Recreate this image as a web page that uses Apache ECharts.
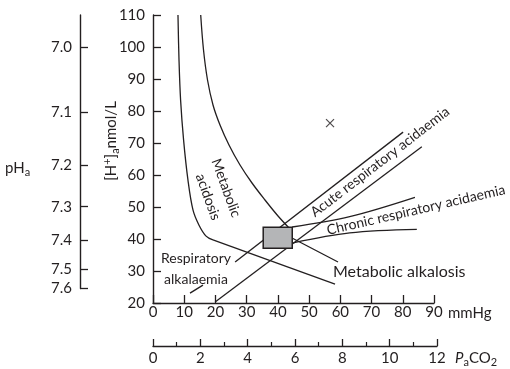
<!DOCTYPE html>
<html><head><meta charset="utf-8">
<script src="https://cdn.jsdelivr.net/npm/echarts@6/dist/echarts.min.js"></script>
<style>html,body{margin:0;padding:0;background:#fff}#c{width:510px;height:369px}</style>
</head><body><div id="c"></div>
<script>
const INK = '#231f20';
const FONT = 'Lato';

// ---- axes ----
const mmHgRange = [0, 90], mmHgStep = 10;
const hRange = [20, 110], hStep = 10;
const kPaRange = [0, 12], kPaStep = 2;
const phLabels = ['7.0', '7.1', '7.2', '7.3', '7.4', '7.5', '7.6'];
const phAtH = [100, 79.5, 63.1, 50.1, 39.5, 30.6, 24.5];

// ---- curves (x = PaCO2 mmHg, y = [H+] nmol/L) ----
const metAcidLeftX = [8.0, 8.33, 8.84, 9.8, 11.2, 12.8, 14.7, 17.0, 19.2];
const metAcidLeftY = [110, 95.9, 83.4, 70.9, 58.4, 49.1, 44.4, 40.9, 39.7];
const respAlkTailX = [19.2, 58.3];
const respAlkTailY = [39.7, 25.9];

const metCurveX = [15.28, 16.18, 17.46, 19.22, 21.46, 24.34, 27.87, 31.71, 35.87, 40.04, 43.88];
const metCurveY = [110, 99.06, 89.69, 81.88, 75.63, 69.38, 63.13, 57.5, 52.19, 47.19, 43.13];
const metAlkTailX = [43.88, 44.52, 59.26];
const metAlkTailY = [43.13, 40.3, 32.8];

const acuteUpperX = [26.3, 80.1];
const acuteUpperY = [32.8, 73.4];
const acuteUpperStubX = [11.85, 16.0];
const acuteUpperStubY = [23.1, 25.6];
const acuteLowerX = [19.9, 86.1];
const acuteLowerY = [20.3, 68.8];

const chronicUpperX = [44.6, 63.0, 83.9];
const chronicUpperY = [43.75, 46.97, 53.0];
const chronicLowerX = [44.9, 63.0, 84.5];
const chronicLowerY = [38.8, 41.9, 43.0];

const normalBoxX = [35.3, 44.6];
const normalBoxY = [37.1, 43.7];

const crossPoint = [56.7, 76.2];

function pairs(xs, ys) { return xs.map((x, i) => [x, ys[i]]); }

const lineStyle = { color: INK, width: 1.3 };
function lineSeries(xs, ys, smooth) {
  return { type: 'line', xAxisIndex: 0, yAxisIndex: 0, data: pairs(xs, ys),
    showSymbol: false, symbol: 'none', smooth: smooth ? 0.35 : false,
    lineStyle: lineStyle, silent: true, z: 3 };
}

const chart = echarts.init(document.getElementById('c'), null, { renderer: 'canvas' });
const axisLine = { show: true, lineStyle: { color: INK, width: 1.4 } };
const txt = { color: INK, fontFamily: FONT, fontSize: 15 };

chart.setOption({
  animation: false,
  grid: [
    { left: 153, top: 15, width: 281, height: 288 },
    { left: 80, top: 15, width: 10, height: (hRange[1] - phAtH[phAtH.length - 1]) * 3.2 },
    { left: 153, top: 345, width: 284, height: 1 }
  ],
  xAxis: [
    { gridIndex: 0, type: 'value', min: mmHgRange[0], max: mmHgRange[1], interval: mmHgStep,
      axisLine: axisLine, axisTick: { inside: true, length: 8, lineStyle: { color: INK, width: 1.3 } },
      axisLabel: Object.assign({ margin: 2 }, txt), splitLine: { show: false } },
    { gridIndex: 1, type: 'value', show: false },
    { gridIndex: 2, type: 'value', min: kPaRange[0], max: kPaRange[1], interval: kPaStep,
      axisLine: axisLine, axisTick: { inside: true, length: 7, lineStyle: { color: INK, width: 1.3 } },
      minorTick: { show: true, splitNumber: 2, length: 4, lineStyle: { color: INK, width: 1.2 } },
      axisLabel: Object.assign({ margin: 5 }, txt), splitLine: { show: false } }
  ],
  yAxis: [
    { gridIndex: 0, type: 'value', min: hRange[0], max: hRange[1], interval: hStep,
      axisLine: axisLine, axisTick: { inside: true, length: 8, lineStyle: { color: INK, width: 1.3 } },
      axisLabel: Object.assign({ margin: 8 }, txt), splitLine: { show: false } },
    { gridIndex: 1, type: 'value', min: phAtH[phAtH.length - 1], max: hRange[1],
      axisLine: axisLine,
      axisTick: { inside: true, length: 8, customValues: phAtH, lineStyle: { color: INK, width: 1.3 } },
      axisLabel: Object.assign({ margin: 8, customValues: phAtH,
        formatter: v => { let bi = 0; phAtH.forEach((h, i) => { if (Math.abs(h - v) < Math.abs(phAtH[bi] - v)) bi = i; }); return phLabels[bi]; } }, txt),
      splitLine: { show: false } },
    { gridIndex: 2, type: 'value', show: false }
  ],
  series: [
    lineSeries(metAcidLeftX, metAcidLeftY, true),
    lineSeries(respAlkTailX, respAlkTailY, false),
    lineSeries(metCurveX, metCurveY, true),
    lineSeries(metAlkTailX, metAlkTailY, false),
    lineSeries(acuteUpperX, acuteUpperY, false),
    lineSeries(acuteUpperStubX, acuteUpperStubY, false),
    lineSeries(acuteLowerX, acuteLowerY, false),
    lineSeries(chronicUpperX, chronicUpperY, true),
    lineSeries(chronicLowerX, chronicLowerY, true),
    { type: 'custom', xAxisIndex: 0, yAxisIndex: 0, z: 10, silent: true,
      data: [[normalBoxX[0], normalBoxY[0], normalBoxX[1], normalBoxY[1]]],
      renderItem: (params, api) => {
        const p0 = api.coord([api.value(0), api.value(1)]);
        const p1 = api.coord([api.value(2), api.value(3)]);
        return { type: 'rect', shape: { x: p0[0], y: p1[1], width: p1[0] - p0[0], height: p0[1] - p1[1] },
          style: { fill: '#b4b5b7', stroke: INK, lineWidth: 1.5 } };
      } },
    { type: 'scatter', xAxisIndex: 0, yAxisIndex: 0, data: [crossPoint], silent: true,
      symbol: 'path://M0,0L10,10M10,0L0,10', symbolSize: 8,
      itemStyle: { color: 'rgba(0,0,0,0)', borderColor: INK, borderWidth: 1.2 } }
  ],
  graphic: [
    { type: 'text', x: 5, y: 168, silent: true,
      style: { text: '{m|pH}{b|a}', align: 'left', verticalAlign: 'middle', fill: INK,
        rich: { m: { fontFamily: FONT, fontSize: 15, fill: INK }, b: { fontFamily: FONT, fontSize: 11, fill: INK, padding: [8, 0, 0, 0] } } } },
    { type: 'text', x: 111, y: 141, rotation: Math.PI / 2, silent: true,
      style: { text: '{m|[H}{s|+}{m|]}{b|a}{m|nmol/L}', align: 'center', verticalAlign: 'middle', fill: INK,
        rich: { m: { fontFamily: FONT, fontSize: 15, fill: INK },
          s: { fontFamily: FONT, fontSize: 11, fill: INK, padding: [0, 0, 8, 0] },
          b: { fontFamily: FONT, fontSize: 11, fill: INK, padding: [8, 0, 0, 0] } } } },
    { type: 'text', x: 448, y: 313, silent: true,
      style: { text: 'mmHg', align: 'left', verticalAlign: 'middle', fill: INK, fontFamily: FONT, fontSize: 15 } },
    { type: 'text', x: 455, y: 358, silent: true,
      style: { text: '{i|P}{b|a}{m|CO}{b|2}', align: 'left', verticalAlign: 'middle', fill: INK,
        rich: { i: { fontFamily: FONT, fontSize: 15, fontStyle: 'italic', fill: INK },
          m: { fontFamily: FONT, fontSize: 15, fill: INK },
          b: { fontFamily: FONT, fontSize: 11, fill: INK, padding: [8, 0, 0, 0] } } } },
    { type: 'text', x: 226, y: 188, rotation: -70 * Math.PI / 180, silent: true,
      style: { text: 'Metabolic', align: 'center', verticalAlign: 'middle', fill: INK, fontFamily: FONT, fontSize: 14 } },
    { type: 'text', x: 208, y: 197, rotation: -70 * Math.PI / 180, silent: true,
      style: { text: 'acidosis', align: 'center', verticalAlign: 'middle', fill: INK, fontFamily: FONT, fontSize: 14 } },
    { type: 'text', x: 196, y: 258, silent: true,
      style: { text: 'Respiratory', align: 'center', verticalAlign: 'middle', fill: INK, fontFamily: FONT, fontSize: 14 } },
    { type: 'text', x: 196, y: 279, silent: true,
      style: { text: 'alkalaemia', align: 'center', verticalAlign: 'middle', fill: INK, fontFamily: FONT, fontSize: 14 } },
    { type: 'text', x: 333, y: 272, silent: true,
      style: { text: 'Metabolic alkalosis', align: 'left', verticalAlign: 'middle', fill: INK, fontFamily: FONT, fontSize: 16 } },
    { type: 'text', x: 380, y: 162, rotation: 37.5 * Math.PI / 180, silent: true,
      style: { text: 'Acute respiratory acidaemia', align: 'center', verticalAlign: 'middle', fill: INK, fontFamily: FONT, fontSize: 14 } },
    { type: 'text', x: 416, y: 210, rotation: 13 * Math.PI / 180, silent: true,
      style: { text: 'Chronic respiratory acidaemia', align: 'center', verticalAlign: 'middle', fill: INK, fontFamily: FONT, fontSize: 14 } }
  ]
});
</script>
</body></html>
